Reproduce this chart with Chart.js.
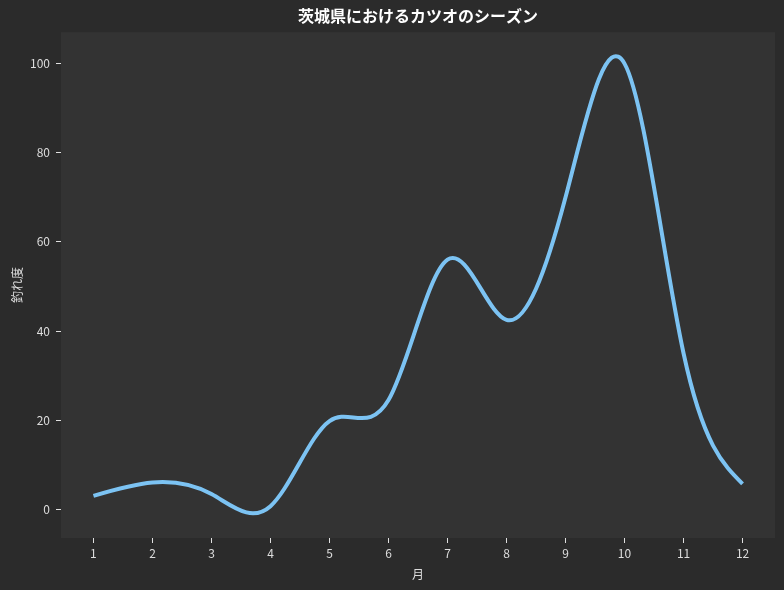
<!DOCTYPE html>
<html>
<head>
<meta charset="utf-8">
<script src="https://cdn.jsdelivr.net/npm/chart.js@4/dist/chart.umd.min.js"></script>
<style>
html,body{margin:0;padding:0;background:#2b2b2b;}
#wrap{width:784px;height:590px;position:relative;}
</style>
</head>
<body>
<div id="wrap"><canvas id="c" width="784" height="590"></canvas></div>
<script>
const months = [1,2,3,4,5,6,7,8,9,10,11,12];
const catchIndex = [3.0, 6.0, 3.4, 0.7, 19.8, 24.5, 56.0, 42.5, 70.0, 100.0, 35.0, 5.7];
const yTicks = [0,20,40,60,80,100];
const titleText = '茨城県におけるカツオのシーズン';
const xLabel = '月';
const yLabel = '釣れ度';

const FONT = "'Noto Sans CJK JP', 'Noto Sans', sans-serif";

function solve(A, b){
  const n = b.length;
  A = A.map(r=>r.slice()); b = b.slice();
  for(let i=0;i<n;i++){
    let p=i;
    for(let k=i+1;k<n;k++) if(Math.abs(A[k][i])>Math.abs(A[p][i])) p=k;
    [A[i],A[p]]=[A[p],A[i]]; [b[i],b[p]]=[b[p],b[i]];
    for(let k=i+1;k<n;k++){
      const f=A[k][i]/A[i][i];
      for(let j=i;j<n;j++) A[k][j]-=f*A[i][j];
      b[k]-=f*b[i];
    }
  }
  const x=new Array(n).fill(0);
  for(let i=n-1;i>=0;i--){
    let s=b[i];
    for(let j=i+1;j<n;j++) s-=A[i][j]*x[j];
    x[i]=s/A[i][i];
  }
  return x;
}
// natural cubic spline slopes at the data points
function splineSlopes(xs, ys){
  const n = xs.length;
  const A = Array.from({length:n},()=>new Array(n).fill(0));
  const r = new Array(n).fill(0);
  const h = i => xs[i+1]-xs[i];
  for(let i=1;i<n-1;i++){
    A[i][i-1]=h(i); A[i][i]=2*(h(i-1)+h(i)); A[i][i+1]=h(i-1);
    r[i]=3*(h(i)*(ys[i]-ys[i-1])/h(i-1) + h(i-1)*(ys[i+1]-ys[i])/h(i));
  }
  A[0][0]=2; A[0][1]=1; r[0]=3*(ys[1]-ys[0])/h(0);
  A[n-1][n-2]=1; A[n-1][n-1]=2; r[n-1]=3*(ys[n-1]-ys[n-2])/h(n-2);
  return solve(A, r);
}

const splinePlugin = {
  id: 'spline',
  beforeDatasetsDraw(chart){
    const meta = chart.getDatasetMeta(0);
    const line = meta.dataset;
    line.updateControlPoints(chart.chartArea, 'x');
    const src = chart.data.datasets[0].data;
    const xs = src.map(d=>d.x);
    const ys = src.map(d=>d.y);
    const m = splineSlopes(xs, ys);
    const sx = chart.scales.x, sy = chart.scales.y;
    meta.data.forEach((pt,i)=>{
      const hb = i>0 ? (xs[i]-xs[i-1])/3 : 1/3;
      const hf = i<xs.length-1 ? (xs[i+1]-xs[i])/3 : 1/3;
      pt.cp1x = sx.getPixelForValue(xs[i]-hb);
      pt.cp1y = sy.getPixelForValue(ys[i]-hb*m[i]);
      pt.cp2x = sx.getPixelForValue(xs[i]+hf);
      pt.cp2y = sy.getPixelForValue(ys[i]+hf*m[i]);
    });
    line._path = undefined;
  }
};

const bgPlugin = {
  id: 'bg',
  beforeDraw(chart){
    const {ctx, chartArea:a} = chart;
    ctx.save();
    ctx.fillStyle = '#2b2b2b';
    ctx.fillRect(0,0,chart.width,chart.height);
    ctx.fillStyle = '#333333';
    ctx.fillRect(a.left, a.top, a.right-a.left, a.bottom-a.top);
    ctx.restore();
  }
};

new Chart(document.getElementById('c'), {
  type: 'line',
  data: {
    datasets: [{
      data: months.map((m,i)=>({x:m, y:catchIndex[i]})),
      borderColor: '#7cc3f3',
      borderWidth: 4,
      pointRadius: 0,
      tension: 0.4,
      capBezierPoints: false,
      fill: false,
      borderCapStyle: 'butt'
    }]
  },
  options: {
    responsive: false,
    animation: false,
    layout: {padding: {left:0, right:9, top:0, bottom:0}},
    plugins: {
      legend: {display:false},
      tooltip: {enabled:false},
      title: {
        display: true,
        fullSize: false,
        text: titleText,
        color: '#ffffff',
        font: {family: FONT, size: 16, weight: 'bold'},
        padding: {top: 6, bottom: 7},
        align: 'center'
      }
    },
    scales: {
      x: {
        type: 'linear',
        min: 0.45, max: 12.55,
        afterBuildTicks(s){ s.ticks = months.map(v=>({value:v})); },
        afterFit(s){ s.height = 52; },
        border: {display:false},
        grid: {display:true, drawOnChartArea:false, drawTicks:true, tickLength:5, color:'#e0e0e0', lineWidth:1},
        ticks: {color:'#dddddd', font:{family:FONT, size:12}, padding:3, autoSkip:false, maxRotation:0},
        title: {display:true, text:xLabel, color:'#dddddd', font:{family:FONT, size:12}, padding:{top:2, bottom:8}}
      },
      y: {
        type: 'linear',
        min: -6.45, max: 107.05,
        afterBuildTicks(s){ s.ticks = yTicks.map(v=>({value:v})); },
        afterFit(s){ s.width = 61; },
        border: {display:false},
        grid: {display:true, drawOnChartArea:false, drawTicks:true, tickLength:5, color:'#e0e0e0', lineWidth:1},
        ticks: {color:'#dddddd', font:{family:FONT, size:12}, padding:6},
        title: {display:true, text:yLabel, color:'#dddddd', font:{family:FONT, size:12}, padding:{top:10, bottom:4}}
      }
    }
  },
  plugins: [bgPlugin, splinePlugin]
});
</script>
</body>
</html>
